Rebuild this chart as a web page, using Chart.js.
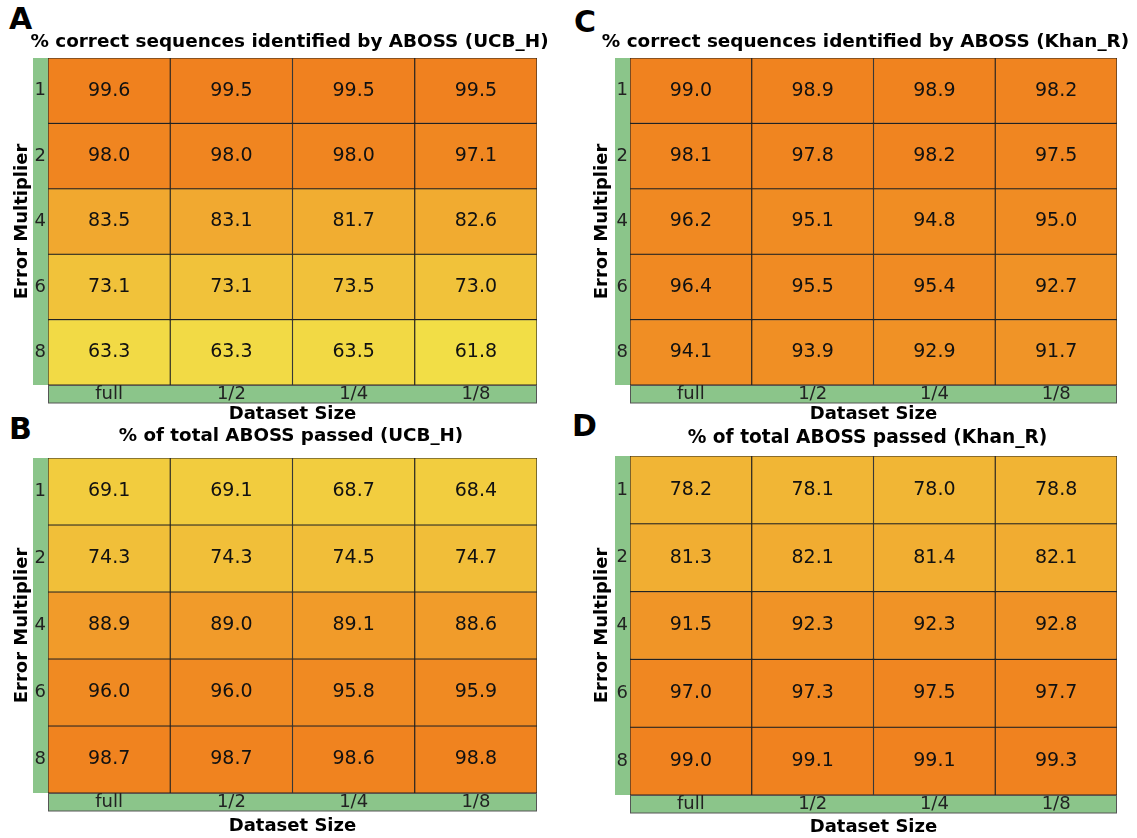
<!DOCTYPE html>
<html>
<head>
<meta charset="utf-8">
<script src="https://cdn.jsdelivr.net/npm/chart.js@4.4.1/dist/chart.umd.min.js"></script>
<style>
  body { margin: 0; background: #fff; width: 1137px; height: 838px; overflow: hidden; position: relative; font-family: "DejaVu Sans", sans-serif; }
  canvas { position: absolute; }
  .letter { position: absolute; font-weight: bold; font-size: 30px; line-height: 30px; color: #000; }
</style>
</head>
<body>
<div class="letter" style="left:9px;top:4px">A</div>
<div class="letter" style="left:9px;top:414px">B</div>
<div class="letter" style="left:574px;top:7px">C</div>
<div class="letter" style="left:572px;top:411px">D</div>
<canvas id="chartA" width="579" height="430" style="left:0;top:0"></canvas>
<canvas id="chartB" width="582" height="430" style="left:0;top:420px"></canvas>
<canvas id="chartC" width="591" height="430" style="left:570px;top:0"></canvas>
<canvas id="chartD" width="595" height="430" style="left:570px;top:420px"></canvas>
<script>
// data
const sizes = ["full", "1/2", "1/4", "1/8"];
const multipliers = ["1", "2", "4", "6", "8"];

const correctUCB = [
  [99.6, 99.5, 99.5, 99.5],
  [98.0, 98.0, 98.0, 97.1],
  [83.5, 83.1, 81.7, 82.6],
  [73.1, 73.1, 73.5, 73.0],
  [63.3, 63.3, 63.5, 61.8]
];
const correctKhan = [
  [99.0, 98.9, 98.9, 98.2],
  [98.1, 97.8, 98.2, 97.5],
  [96.2, 95.1, 94.8, 95.0],
  [96.4, 95.5, 95.4, 92.7],
  [94.1, 93.9, 92.9, 91.7]
];
const passedUCB = [
  [69.1, 69.1, 68.7, 68.4],
  [74.3, 74.3, 74.5, 74.7],
  [88.9, 89.0, 89.1, 88.6],
  [96.0, 96.0, 95.8, 95.9],
  [98.7, 98.7, 98.6, 98.8]
];
const passedKhan = [
  [78.2, 78.1, 78.0, 78.8],
  [81.3, 82.1, 81.4, 82.1],
  [91.5, 92.3, 92.3, 92.8],
  [97.0, 97.3, 97.5, 97.7],
  [99.0, 99.1, 99.1, 99.3]
];

const FONT = "DejaVu Sans";
const GREEN = "#8bc58a";

// yellow (low) -> orange (high)
function cellColor(v) {
  let t = (v - 60) / 40;
  t = Math.max(0, Math.min(1, t));
  const r = Math.round(242 - 2 * t);
  const g = Math.round(226 - 98 * t);
  const b = Math.round(72 - 42 * t);
  return "rgb(" + r + "," + g + "," + b + ")";
}

const heatPlugin = {
  id: "heat",
  beforeDraw(chart) {
    const { ctx, chartArea: a } = chart;
    ctx.save();
    ctx.fillStyle = GREEN;
    ctx.fillRect(a.left - 15, a.top, 15, a.bottom - a.top);
    ctx.fillRect(a.left, a.bottom, a.right - a.left, 18);
    ctx.strokeStyle = "#555";
    ctx.lineWidth = 1;
    ctx.strokeRect(a.left + 0.5, a.bottom + 0.5, a.right - a.left - 1, 17.5);
    ctx.restore();
  },
  afterDatasetsDraw(chart) {
    const ctx = chart.ctx;
    ctx.save();
    ctx.font = "19px '" + FONT + "'";
    ctx.fillStyle = "#111";
    ctx.textAlign = "center";
    ctx.textBaseline = "middle";
    chart.data.datasets.forEach((ds, i) => {
      chart.getDatasetMeta(i).data.forEach((bar, j) => {
        const p = bar.getCenterPoint();
        ctx.fillText(ds.values[j].toFixed(1), p.x, p.y);
      });
    });
    ctx.restore();
  }
};

function makeHeatmap(id, values, title, lay) {
  const datasets = multipliers.map((m, r) => ({
    label: m,
    values: values[r],
    data: sizes.map(() => 1),
    backgroundColor: values[r].map(cellColor),
    borderColor: "#222",
    borderWidth: 0.9,
    borderSkipped: false,
    barPercentage: 1,
    categoryPercentage: 1,
    yAxisID: "v"
  }));

  return new Chart(document.getElementById(id), {
    type: "bar",
    data: { labels: sizes, datasets: datasets },
    options: {
      responsive: false,
      animation: false,
      layout: { padding: 0 },
      plugins: {
        legend: { display: false },
        tooltip: { enabled: false },
        title: {
          display: true,
          text: title,
          color: "#000",
          font: { family: FONT, size: lay.titleSize, weight: "bold" },
          padding: { top: lay.titleTop, bottom: lay.titleBottom }
        }
      },
      scales: {
        x: {
          stacked: true,
          grid: { display: false, drawTicks: false },
          border: { display: false },
          ticks: { color: "#222", padding: 0, font: { family: FONT, size: 18, lineHeight: 1 } },
          title: {
            display: true,
            text: "Dataset Size",
            color: "#000",
            font: { family: FONT, size: 18, weight: "bold" },
            padding: { top: 0, bottom: lay.xTitlePad }
          },
          afterFit(s) { s.height = lay.xH; }
        },
        y: {
          type: "category",
          labels: multipliers,
          offset: true,
          position: "left",
          grid: { display: false, drawTicks: false },
          border: { display: false },
          ticks: { color: "#222", padding: 2, font: { family: FONT, size: 18 } },
          title: {
            display: true,
            text: "Error Multiplier",
            color: "#000",
            font: { family: FONT, size: 18, weight: "bold" },
            padding: { top: lay.yTitlePad, bottom: 0 }
          },
          afterFit(s) { s.width = lay.yW; }
        },
        // empty right-hand margin, so the title can centre over the whole canvas
        margin: {
          type: "linear",
          position: "right",
          grid: { display: false, drawTicks: false },
          border: { display: false },
          ticks: { display: false },
          afterFit(s) { s.width = lay.rightW; }
        },
        v: {
          type: "linear",
          stacked: true,
          reverse: true,
          min: 0,
          max: multipliers.length,
          display: false
        }
      }
    },
    plugins: [heatPlugin]
  });
}

makeHeatmap("chartA", correctUCB, "% correct sequences identified by ABOSS (UCB_H)",
  { rightW: 42, yW: 48, xH: 45, titleSize: 18.4, titleTop: 30.96, titleBottom: 4.96, yTitlePad: 11.2, xTitlePad: 5.2 });
makeHeatmap("chartC", correctKhan, "% correct sequences identified by ABOSS (Khan_R)",
  { rightW: 44, yW: 60, xH: 45, titleSize: 18.4, titleTop: 30.96, titleBottom: 4.96, yTitlePad: 21.2, xTitlePad: 5.2 });
makeHeatmap("chartB", passedUCB, "% of total ABOSS passed (UCB_H)",
  { rightW: 45, yW: 48, xH: 57, titleSize: 18.3, titleTop: 5.02, titleBottom: 11.02, yTitlePad: 11.2, xTitlePad: 13.2 });
makeHeatmap("chartD", passedKhan, "% of total ABOSS passed (Khan_R)",
  { rightW: 48, yW: 60, xH: 55, titleSize: 18.6, titleTop: 6.84, titleBottom: 6.84, yTitlePad: 21.2, xTitlePad: 12.2 });
</script>
</body>
</html>
